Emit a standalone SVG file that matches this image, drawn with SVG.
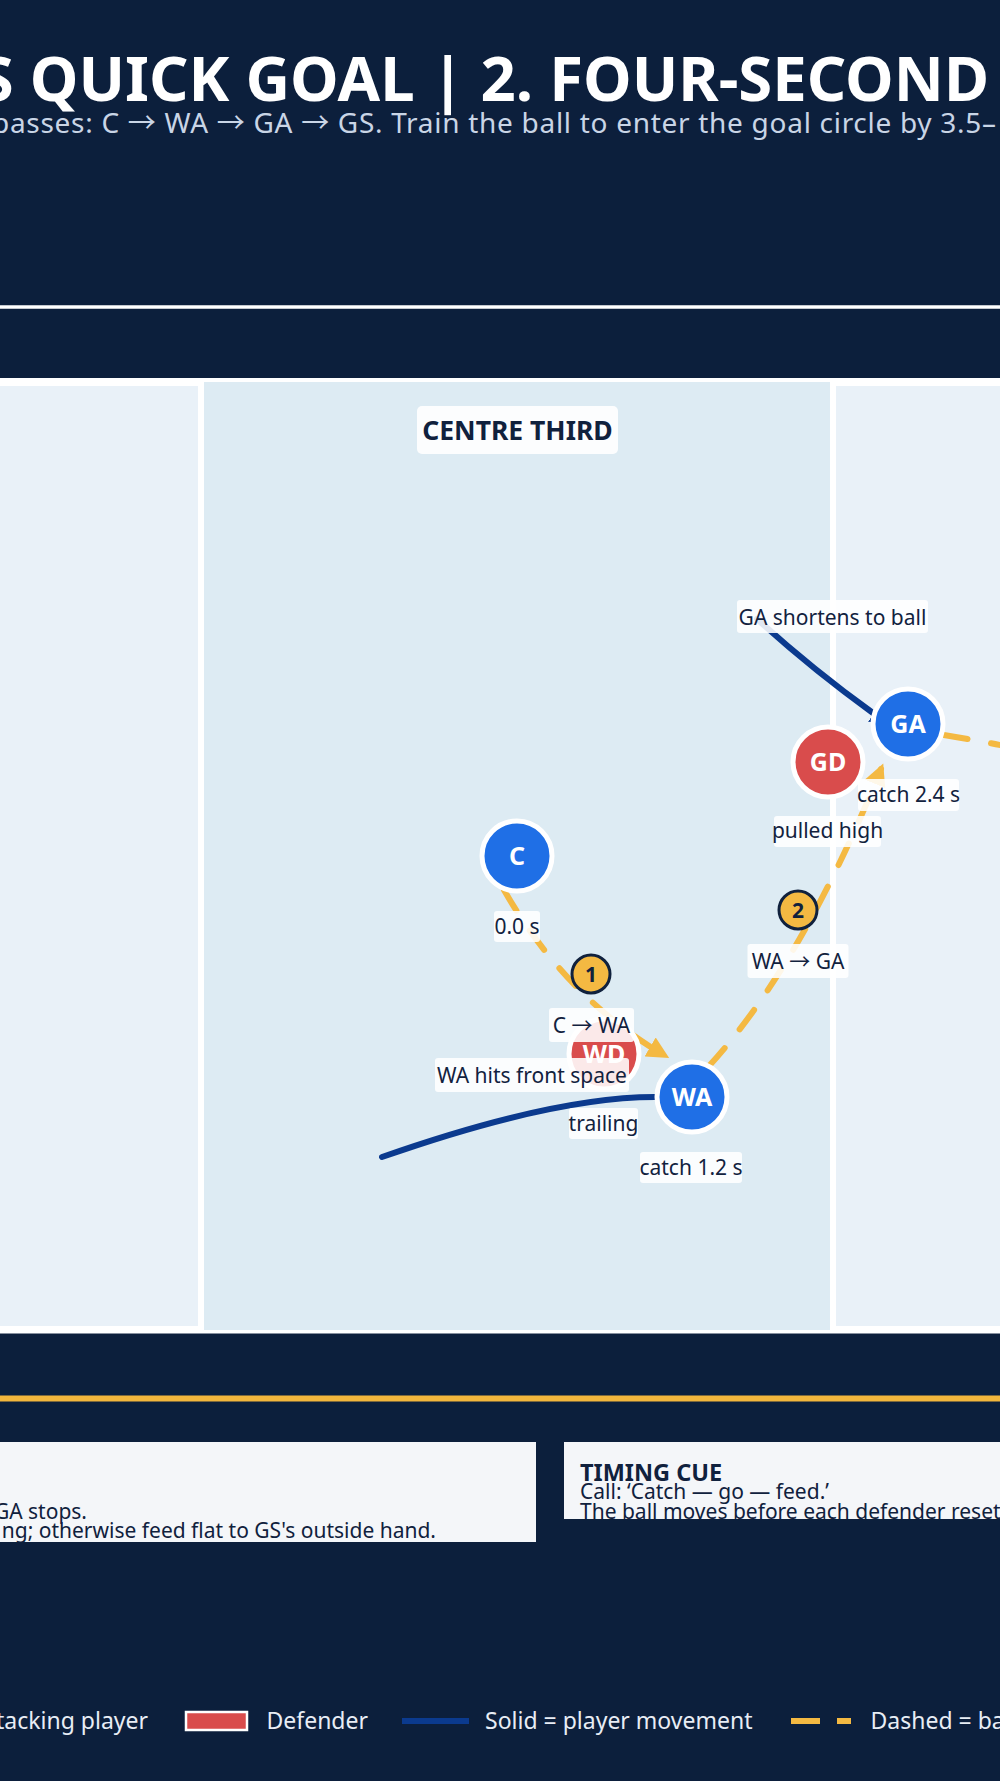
<svg xmlns="http://www.w3.org/2000/svg" width="1000" height="1781" viewBox="0 0 1000 1781">
<defs>
<style>
text{font-family:"Noto Sans","Open Sans","Noto Sans CJK SC",sans-serif}
.arr{font-family:"Noto Sans CJK SC","Noto Sans CJK JP",sans-serif}
.title{font-weight:700;font-size:61.6px;fill:#ffffff}
.sub{font-size:28px;fill:#c9d5e6}
.lbl{font-size:21px;fill:#12223e;text-anchor:middle}
.lblbg{fill:#ffffff;fill-opacity:0.88}
.node{stroke:#ffffff;stroke-width:5}
.att{fill:#1f6fe6}
.def{fill:#d94c4c}
.ntxt{font-weight:700;font-size:25px;fill:#ffffff;text-anchor:middle}
.badge{fill:#f4b942;stroke:#10213d;stroke-width:3}
.btxt{font-weight:700;font-size:21px;fill:#10213d;text-anchor:middle}
.move{fill:none;stroke:#0b3a8e;stroke-width:6;stroke-linecap:round}
.pass{fill:none;stroke:#f4b942;stroke-width:6;stroke-dasharray:24 24;stroke-linecap:round}
.ptxt{font-size:21px;fill:#10213d}
.phead{font-size:23.5px;font-weight:700;fill:#10213d}
.leg{font-size:23px;fill:#e8edf5}
</style>
<marker id="ahGold" markerUnits="userSpaceOnUse" markerWidth="24" markerHeight="22" refX="16" refY="11" orient="auto">
<path d="M0,0 L22,11 L0,22 z" fill="#f4b942"/>
</marker>
<marker id="ahBlue" markerUnits="userSpaceOnUse" markerWidth="18" markerHeight="20" refX="-1" refY="10" orient="auto">
<path d="M0,0 L17,10 L0,20 z" fill="#0b3a8e"/>
</marker>
<clipPath id="clipL"><rect x="-20" y="1442" width="556" height="100"/></clipPath>
<clipPath id="clipR"><rect x="564" y="1442" width="460" height="77"/></clipPath>
</defs>

<rect x="0" y="0" width="1000" height="1781" fill="#0c1f3c"/>

<g id="header">
<text class="title" x="989" y="101" text-anchor="end">S QUICK GOAL | 2. FOUR-SECOND</text>
<text class="sub" x="-8" y="133" textLength="1004" lengthAdjust="spacing">passes: C <tspan class="arr">→</tspan> WA <tspan class="arr">→</tspan> GA <tspan class="arr">→</tspan> GS. Train the ball to enter the goal circle by 3.5–</text>
<line x1="0" y1="307" x2="1000" y2="307" stroke="#ffffff" stroke-width="3.5"/>
</g>

<g id="court">
<rect x="-10" y="378" width="1020" height="955.5" fill="#ffffff"/>
<rect x="-10" y="386" width="208" height="940" fill="#e9f1f8"/>
<rect x="836" y="386" width="174" height="940" fill="#e9f1f8"/>
<rect x="204" y="382" width="626" height="948" fill="#ddebf3"/>
<rect x="417" y="406" width="201" height="48" rx="5" fill="#ffffff" fill-opacity="0.9"/>
<text x="517.5" y="440" text-anchor="middle" font-weight="700" font-size="26.5" fill="#10213d">CENTRE THIRD</text>
</g>

<g id="connectors">
<path class="move" d="M757 619 Q812 669 873 713" marker-end="url(#ahBlue)"/>
<path class="move" d="M382 1157 Q553 1097 655 1097" marker-end="url(#ahBlue)"/>
<path class="pass" d="M504 890 Q566 998 664 1055" marker-end="url(#ahGold)"/>
<path class="pass" d="M709 1066 Q802 964 881 769" marker-end="url(#ahGold)"/>
<path class="pass" d="M944 735 Q1000 744 1070 760"/>
</g>

<g id="node-C"><circle class="node att" cx="517" cy="856" r="35"/><text class="ntxt" x="517" y="865">C</text></g>
<g id="node-WD"><circle class="node def" cx="604" cy="1054" r="35"/><text class="ntxt" x="604" y="1063">WD</text></g>
<g id="node-WA"><circle class="node att" cx="692" cy="1097" r="35"/><text class="ntxt" x="692" y="1106">WA</text></g>
<g id="node-GD"><circle class="node def" cx="828" cy="762" r="35"/><text class="ntxt" x="828" y="771">GD</text></g>
<g id="node-GA"><circle class="node att" cx="908" cy="724" r="35"/><text class="ntxt" x="908" y="733">GA</text></g>

<g id="badge-1"><circle class="badge" cx="591" cy="974" r="19"/><text class="btxt" x="591" y="981.5">1</text></g>
<g id="badge-2"><circle class="badge" cx="798" cy="910" r="19"/><text class="btxt" x="798" y="917.5">2</text></g>

<g id="labels">
<rect class="lblbg" x="737" y="600" width="191" height="33" rx="3"/><text class="lbl" x="832.5" y="625">GA shortens to ball</text>
<rect class="lblbg" x="858" y="779" width="101" height="32" rx="3"/><text class="lbl" x="908.5" y="802">catch 2.4 s</text>
<rect class="lblbg" x="774" y="816" width="107" height="31" rx="3"/><text class="lbl" x="827.5" y="838">pulled high</text>
<rect class="lblbg" x="494" y="911" width="46" height="31" rx="3"/><text class="lbl" x="517" y="934">0.0 s</text>
<rect class="lblbg" x="747.5" y="944" width="101" height="34" rx="3"/><text class="lbl" x="798" y="969">WA <tspan class="arr">→</tspan> GA</text>
<rect class="lblbg" x="549" y="1008" width="85" height="34" rx="3"/><text class="lbl" x="591.5" y="1033">C <tspan class="arr">→</tspan> WA</text>
<rect class="lblbg" x="435" y="1058" width="194" height="34" rx="3"/><text class="lbl" x="532" y="1083">WA hits front space</text>
<rect class="lblbg" x="569" y="1108" width="69" height="31" rx="3"/><text class="lbl" x="603.5" y="1131">trailing</text>
<rect class="lblbg" x="640" y="1152" width="102" height="31" rx="3"/><text class="lbl" x="691" y="1175">catch 1.2 s</text>
</g>

<line x1="0" y1="1398.5" x2="1000" y2="1398.5" stroke="#f2b63c" stroke-width="6"/>

<g id="panel-left">
<rect x="-10" y="1442" width="546" height="100" fill="#f4f6f9"/>
<g clip-path="url(#clipL)">
<text class="ptxt" x="87" y="1519" text-anchor="end">GA stops.</text>
<text class="ptxt" x="436" y="1538" text-anchor="end">ng; otherwise feed flat to GS's outside hand.</text>
</g>
</g>

<g id="panel-right">
<rect x="564" y="1442" width="446" height="77" fill="#f4f6f9"/>
<g clip-path="url(#clipR)">
<text class="phead" x="580" y="1481">TIMING CUE</text>
<text class="ptxt" x="580" y="1499">Call: ‘Catch — go — feed.’</text>
<text class="ptxt" x="580" y="1519">The ball moves before each defender reset</text>
</g>
</g>

<g id="legend">
<text class="leg" x="148" y="1729" text-anchor="end">tacking player</text>
<rect x="186" y="1712" width="61" height="18" fill="#d94c4c" stroke="#ffffff" stroke-width="2.5"/>
<text class="leg" x="266.5" y="1729">Defender</text>
<line x1="402" y1="1721" x2="469" y2="1721" stroke="#0b3a8e" stroke-width="6"/>
<text class="leg" x="485" y="1729">Solid = player movement</text>
<line x1="791" y1="1721" x2="851" y2="1721" stroke="#f4b942" stroke-width="6" stroke-dasharray="29 17"/>
<text class="leg" x="870.5" y="1729">Dashed = ba</text>
</g>
</svg>
